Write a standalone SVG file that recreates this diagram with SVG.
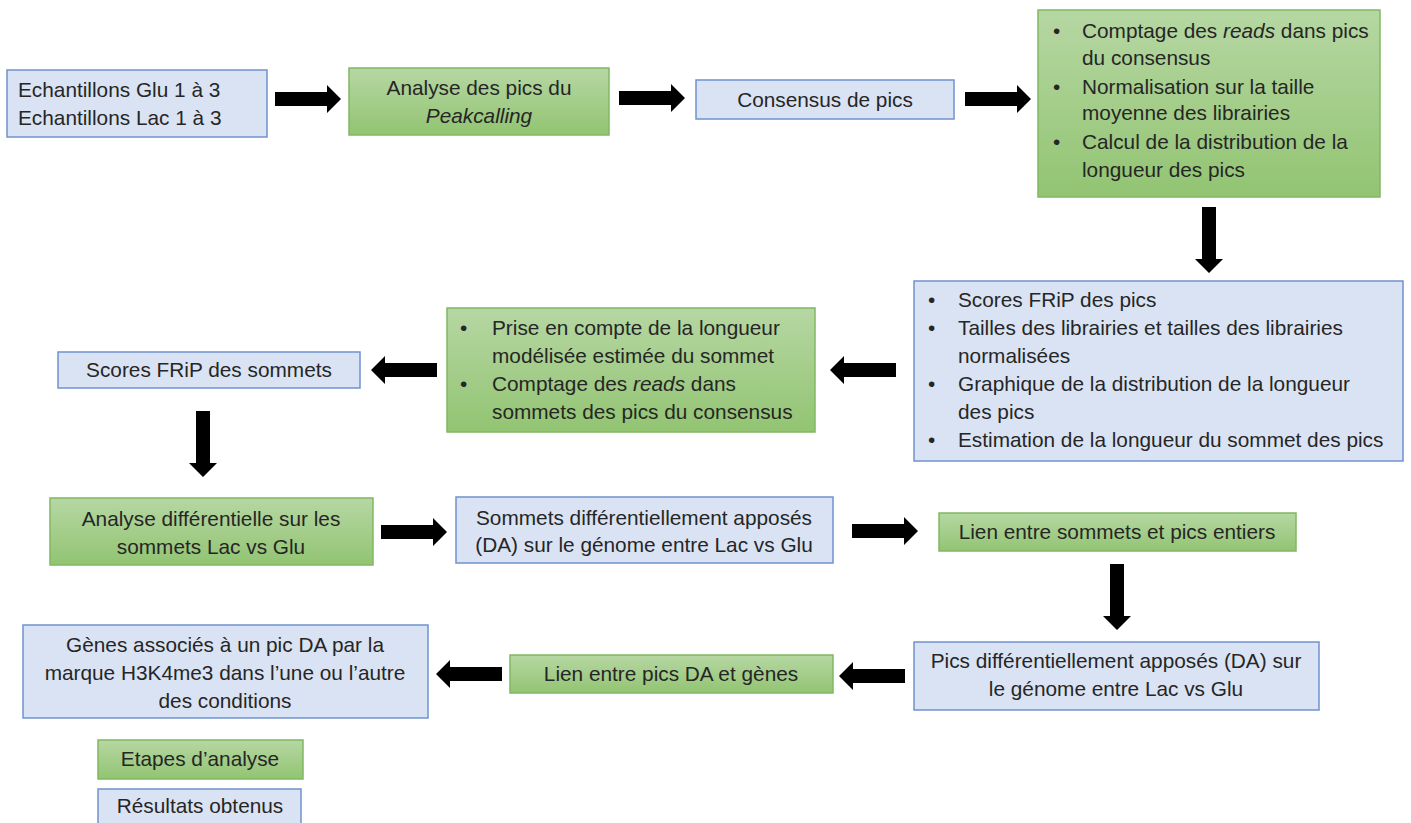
<svg xmlns="http://www.w3.org/2000/svg" width="1411" height="823" viewBox="0 0 1411 823">
<defs>
<linearGradient id="g" x1="0" y1="0" x2="0" y2="1">
<stop offset="0" stop-color="#b6d7a3"/>
<stop offset="1" stop-color="#92c472"/>
</linearGradient>
<path id="ar" d="M0,-7 L52,-7 L52,-14 L66,0 L52,14 L52,7 L0,7 Z"/>
</defs>
<style>
.b{fill:#dae3f3;stroke:#7092d0;stroke-width:1.5}
.g{fill:url(#g);stroke:#80b862;stroke-width:1.5}
text{font-family:"Liberation Sans",Arial,sans-serif;font-size:20.8px;fill:#262626}
.c{text-anchor:middle}
.a{fill:#000}
</style>
<rect width="1411" height="823" fill="#fff"/>
<g id="connectors">
<use href="#ar" class="a" transform="translate(275,99)"/>
<use href="#ar" class="a" transform="translate(619,98)"/>
<use href="#ar" class="a" transform="translate(965,99)"/>
<use href="#ar" class="a" transform="translate(1209,207) rotate(90)"/>
<use href="#ar" class="a" transform="translate(896,370) rotate(180)"/>
<use href="#ar" class="a" transform="translate(437,370) rotate(180)"/>
<use href="#ar" class="a" transform="translate(203,411) rotate(90)"/>
<use href="#ar" class="a" transform="translate(381,532)"/>
<use href="#ar" class="a" transform="translate(852,531)"/>
<use href="#ar" class="a" transform="translate(1117,564) rotate(90)"/>
<use href="#ar" class="a" transform="translate(905,676) rotate(180)"/>
<use href="#ar" class="a" transform="translate(502,674) rotate(180)"/>
</g>
<g id="n1"><rect class="b" x="7" y="70" width="260" height="67"/>
<text x="18" y="97">Echantillons Glu 1 à 3</text><text x="18" y="125">Echantillons Lac 1 à 3</text></g>
<g id="n2"><rect class="g" x="349" y="68" width="260" height="67"/>
<text class="c" x="479" y="95">Analyse des pics du</text><text class="c" x="479" y="123" font-style="italic">Peakcalling</text></g>
<g id="n3"><rect class="b" x="696" y="80" width="258" height="39"/>
<text class="c" x="825" y="107">Consensus de pics</text></g>
<g id="n4"><rect class="g" x="1038" y="10" width="342" height="187"/>
<text x="1053" y="38">•</text><text x="1082" y="38">Comptage des <tspan font-style="italic">reads</tspan> dans pics</text>
<text x="1082" y="65">du consensus</text>
<text x="1053" y="94">•</text><text x="1082" y="94">Normalisation sur la taille</text>
<text x="1082" y="120">moyenne des librairies</text>
<text x="1053" y="149">•</text><text x="1082" y="149">Calcul de la distribution de la</text>
<text x="1082" y="177">longueur des pics</text></g>
<g id="n5"><rect class="b" x="914" y="281" width="489" height="180"/>
<text x="928" y="307">•</text><text x="958" y="307">Scores FRiP des pics</text>
<text x="928" y="335">•</text><text x="958" y="335">Tailles des librairies et tailles des librairies</text>
<text x="958" y="363">normalisées</text>
<text x="928" y="391">•</text><text x="958" y="391">Graphique de la distribution de la longueur</text>
<text x="958" y="419">des pics</text>
<text x="928" y="447">•</text><text x="958" y="447">Estimation de la longueur du sommet des pics</text></g>
<g id="n6"><rect class="g" x="447" y="308" width="368" height="124"/>
<text x="460" y="335">•</text><text x="492" y="335">Prise en compte de la longueur</text>
<text x="492" y="363">modélisée estimée du sommet</text>
<text x="460" y="391">•</text><text x="492" y="391">Comptage des <tspan font-style="italic">reads</tspan> dans</text>
<text x="492" y="419">sommets des pics du consensus</text></g>
<g id="n7"><rect class="b" x="58" y="352" width="302" height="36"/>
<text class="c" x="209" y="377">Scores FRiP des sommets</text></g>
<g id="n8"><rect class="g" x="50" y="498" width="323" height="67"/>
<text class="c" x="211" y="526">Analyse différentielle sur les</text><text class="c" x="211" y="554">sommets Lac vs Glu</text></g>
<g id="n9"><rect class="b" x="456" y="497" width="377" height="66"/>
<text class="c" x="644" y="525">Sommets différentiellement apposés</text><text class="c" x="644" y="552">(DA) sur le génome entre Lac vs Glu</text></g>
<g id="n10"><rect class="g" x="939" y="513" width="357" height="38"/>
<text class="c" x="1117" y="539">Lien entre sommets et pics entiers</text></g>
<g id="n11"><rect class="b" x="914" y="642" width="405" height="68"/>
<text class="c" x="1116" y="668">Pics différentiellement apposés (DA) sur</text><text class="c" x="1116" y="696">le génome entre Lac vs Glu</text></g>
<g id="n12"><rect class="g" x="510" y="655" width="323" height="38"/>
<text class="c" x="671" y="681">Lien entre pics DA et gènes</text></g>
<g id="n13"><rect class="b" x="23" y="625" width="405" height="93"/>
<text class="c" x="225" y="652">Gènes associés à un pic DA par la</text><text class="c" x="225" y="680">marque H3K4me3 dans l’une ou l’autre</text><text class="c" x="225" y="708">des conditions</text></g>
<g id="legend-green"><rect class="g" x="98" y="740" width="205" height="39"/>
<text class="c" x="200" y="766">Etapes d’analyse</text></g>
<g id="legend-blue"><rect class="b" x="98" y="789" width="203" height="40"/>
<text class="c" x="200" y="813">Résultats obtenus</text></g>
</svg>
